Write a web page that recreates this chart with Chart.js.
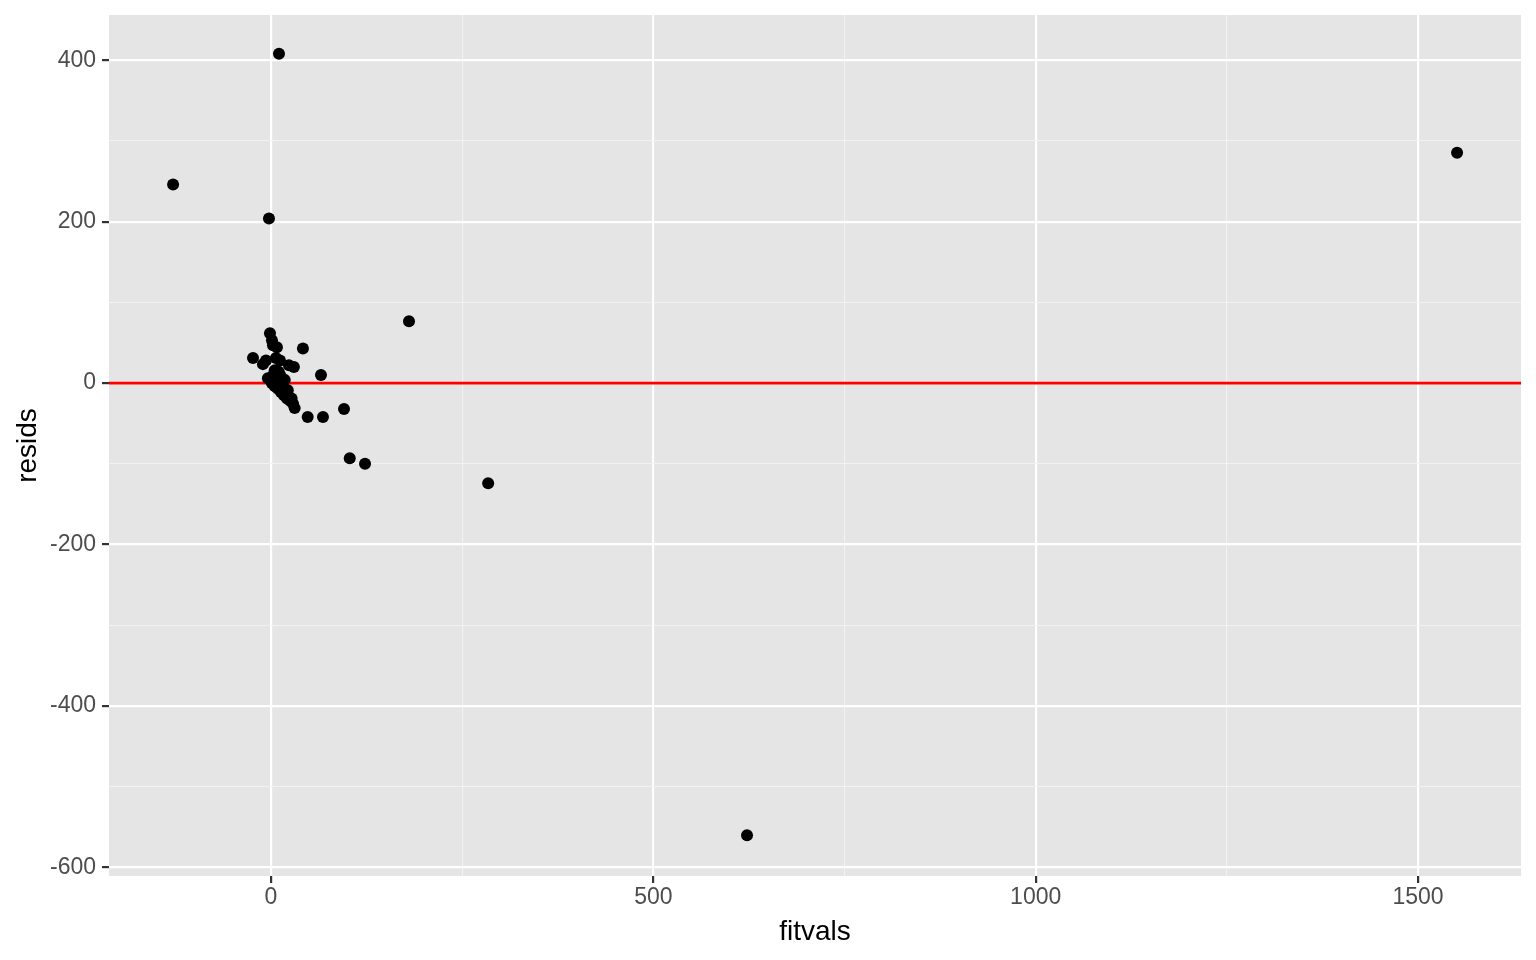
<!DOCTYPE html>
<html lang="en">
<head>
    <meta charset="UTF-8">
    <title>resids vs fitvals</title>
    <script src="https://cdn.jsdelivr.net/npm/chart.js"></script>
    <style>
        body {
            margin: 0;
            padding: 0;
            background: #ffffff;
        }
        #residChart {
            display: block;
        }
    </style>
</head>
<body>
<canvas id="residChart" width="1536" height="960"></canvas>
<script>
// fitted values and residuals
const fitvals = [-128, -2.6, 10.5, 1551, 622.5, 284, 180.5, 123, 103, 95.5,
                 68, 48, 65.4, 41.8, -23.5, -10.5, -6.5, -1.3, 1.3, 2.6,
                 7.8, 11.8, 6.5, 23.5, 30, -4, -1, 1, 5, 9,
                 13, 17, 21, 25, 29, 31, 27, 18, 12, 5,
                 16, 22, 3, 8, 14, 19, 10];
const resids  = [246, 204, 408, 285.5, -560, -124, 76.6, -100, -93, -32,
                 -42, -42, 10, 43, 31, 23.5, 28, 61.8, 53, 47,
                 44.5, 28, 31, 22, 20, 6, 4, 0, -4, -7,
                 -11, -15, -19, -22, -26, -31, -19, 4, 10, 16,
                 -2, -9, 10, 2, -5, -12, 14];

const xMajor = [0, 500, 1000, 1500];
const xMinor = [250, 750, 1250];
const yMajor = [-600, -400, -200, 0, 200, 400];
const yMinor = [-500, -300, -100, 100, 300];
const xRange = [-211.8, 1634.6];
const yRange = [-610.6, 456];
const hlineY = 0;

const points = fitvals.map((x, i) => ({x: x, y: resids[i]}));

const panelBg = {
  id: 'panelBg',
  beforeDraw(chart) {
    const {ctx, chartArea} = chart;
    ctx.save();
    ctx.fillStyle = '#E5E5E5';
    ctx.fillRect(chartArea.left, chartArea.top, chartArea.right - chartArea.left, chartArea.bottom - chartArea.top);
    ctx.restore();
  }
};

function gridOpts(major) {
  return {
    color: (c) => major.includes(c.tick.value) ? '#FFFFFF' : '#F2F2F2',
    lineWidth: (c) => major.includes(c.tick.value) ? 2.2 : 1.1,
    tickColor: (c) => major.includes(c.tick.value) ? '#333333' : 'rgba(0,0,0,0)',
    tickWidth: 2.2,
    tickLength: 7,
    drawOnChartArea: true
  };
}

new Chart(document.getElementById('residChart'), {
  type: 'scatter',
  data: {
    datasets: [
      {
        data: points,
        backgroundColor: '#000000',
        borderWidth: 0,
        pointRadius: 6,
        order: 0
      },
      {
        type: 'line',
        data: [{x: xRange[0], y: hlineY}, {x: xRange[1], y: hlineY}],
        borderColor: '#FF0000',
        borderWidth: 2.6,
        pointRadius: 0,
        order: 1
      }
    ]
  },
  options: {
    responsive: false,
    animation: false,
    events: [],
    layout: { padding: { top: 15, right: 15, left: 0, bottom: 0 } },
    plugins: { legend: { display: false }, tooltip: { enabled: false } },
    scales: {
      x: {
        type: 'linear',
        min: xRange[0],
        max: xRange[1],
        afterBuildTicks: (s) => { s.ticks = xMajor.concat(xMinor).sort((a, b) => a - b).map(v => ({value: v})); },
        afterFit: (s) => { s.height = 84; s.paddingLeft = 0; s.paddingRight = 0; },
        border: { display: false },
        grid: gridOpts(xMajor),
        ticks: {
          autoSkip: false,
          maxRotation: 0,
          padding: 1,
          color: '#4D4D4D',
          font: { family: 'Liberation Sans', size: 23 },
          callback: (v) => xMajor.includes(v) ? String(v) : ''
        },
        title: {
          display: true,
          text: 'fitvals',
          color: '#000000',
          font: { family: 'Liberation Sans', size: 28 },
          padding: { top: 0, bottom: 11 }
        }
      },
      y: {
        type: 'linear',
        min: yRange[0],
        max: yRange[1],
        afterBuildTicks: (s) => { s.ticks = yMajor.concat(yMinor).sort((a, b) => a - b).map(v => ({value: v})); },
        afterFit: (s) => { s.width = 109; s.paddingTop = 0; s.paddingBottom = 0; },
        border: { display: false },
        grid: gridOpts(yMajor),
        ticks: {
          autoSkip: false,
          padding: 6,
          color: '#4D4D4D',
          font: { family: 'Liberation Sans', size: 23 },
          callback: (v) => yMajor.includes(v) ? String(v) : ''
        },
        title: {
          display: true,
          text: 'resids',
          color: '#000000',
          font: { family: 'Liberation Sans', size: 28 },
          padding: { top: 11, bottom: 0 }
        }
      }
    }
  },
  plugins: [panelBg]
});
</script>
</body>
</html>
